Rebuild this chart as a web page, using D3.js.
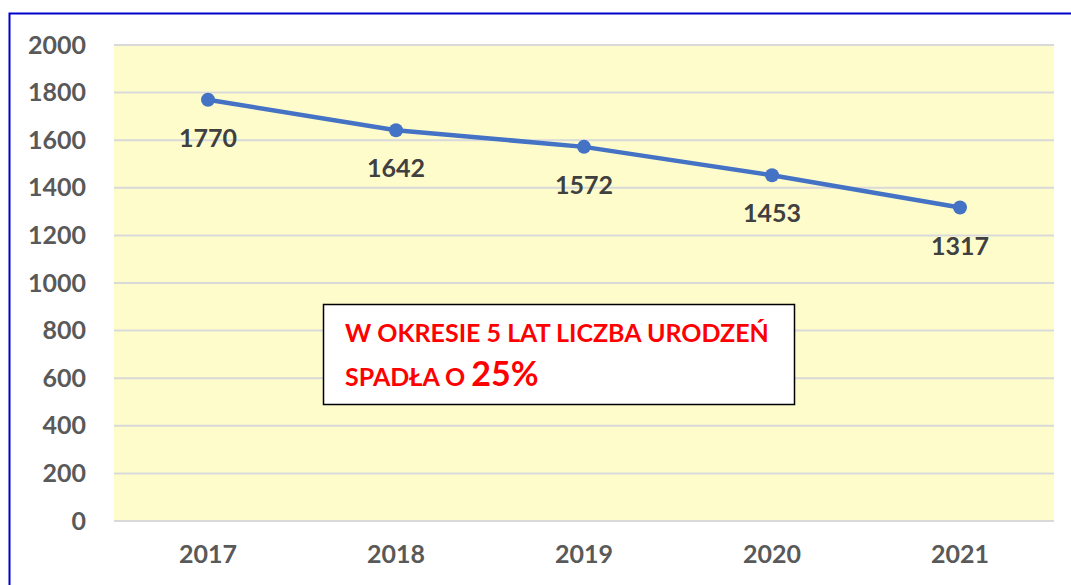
<!DOCTYPE html>
<html>
<head>
<meta charset="utf-8">
<script src="https://cdn.jsdelivr.net/npm/d3@7"></script>
<style>
  body { margin: 0; background: #fff; }
  text { font-family: Lato, "Open Sans", sans-serif; font-weight: bold; }
</style>
</head>
<body>
<main></main>
<script>
// births per year, line chart

const years = ["2017", "2018", "2019", "2020", "2021"];
const births = [1770, 1642, 1572, 1453, 1317];
const yTicks = [0, 200, 400, 600, 800, 1000, 1200, 1400, 1600, 1800, 2000];
const noteLine1 = "W OKRESIE 5 LAT LICZBA URODZEŃ";
const noteLine2 = "SPADŁA O ";
const notePct = "25%";

let width = 1071,
    height = 585;

let gray = "#595959",
    blue = "#4472c4";

let plot = { left: 114, right: 1054, top: 45, bottom: 521 };

let svg = d3.select("main").append("svg")
  .attr("width", width)
  .attr("height", height);

// outer frame (cut off on right and bottom)
svg.append("rect")
  .attr("x", 9.5).attr("y", 13.5)
  .attr("width", 1100).attr("height", 600)
  .attr("fill", "none")
  .attr("stroke", "#0000cc")
  .attr("stroke-width", 2);

let x = d3.scaleBand().domain(years).range([plot.left, plot.right]);
let y = d3.scaleLinear().domain([0, 2000]).range([plot.bottom, plot.top]);

svg.append("rect")
  .attr("x", plot.left).attr("y", plot.top)
  .attr("width", plot.right - plot.left)
  .attr("height", plot.bottom - plot.top)
  .attr("fill", "#fffccc");

// grid
svg.append("g").selectAll("line").data(yTicks).enter().append("line")
  .attr("x1", plot.left).attr("x2", plot.right)
  .attr("y1", d => y(d)).attr("y2", d => y(d))
  .attr("stroke", "#d9d9d9").attr("stroke-width", 2);

// y axis labels
let yAxis = svg.append("g")
  .attr("transform", `translate(${plot.left - 28},0)`)
  .call(d3.axisLeft(y).tickValues(yTicks).tickFormat(d3.format("d")).tickSize(0).tickPadding(0));
yAxis.select(".domain").remove();
yAxis.selectAll("text")
  .attr("fill", gray)
  .attr("font-size", 25)
  .attr("font-family", "Lato, sans-serif")
  .attr("font-weight", "bold");

// x axis labels
let xAxis = svg.append("g")
  .attr("transform", `translate(0,${plot.bottom})`)
  .call(d3.axisBottom(x).tickSize(0).tickPadding(24));
xAxis.select(".domain").remove();
xAxis.selectAll("text")
  .attr("fill", gray)
  .attr("font-size", 25)
  .attr("font-family", "Lato, sans-serif")
  .attr("font-weight", "bold");

let cx = d => x(d) + x.bandwidth() / 2;
let pts = years.map((yr, i) => ({ year: yr, value: births[i] }));

let line = d3.line().x(d => cx(d.year)).y(d => y(d.value));

svg.append("path")
  .datum(pts)
  .attr("d", line)
  .attr("fill", "none")
  .attr("stroke", blue)
  .attr("stroke-width", 4.5);

svg.append("g").selectAll("circle").data(pts).enter().append("circle")
  .attr("cx", d => cx(d.year))
  .attr("cy", d => y(d.value))
  .attr("r", 7)
  .attr("fill", blue);

svg.append("g").selectAll("text").data(pts).enter().append("text")
  .attr("x", d => cx(d.year))
  .attr("y", d => y(d.value) + 47)
  .attr("text-anchor", "middle")
  .attr("fill", "#404040")
  .attr("font-size", 25)
  .text(d => d.value);

// note box
let note = svg.append("g");
note.append("rect")
  .attr("x", 323.5).attr("y", 304.5)
  .attr("width", 471).attr("height", 100)
  .attr("fill", "#fff")
  .attr("stroke", "#000")
  .attr("stroke-width", 1.5);

note.append("text")
  .attr("x", 345).attr("y", 342)
  .attr("fill", "#ff0000")
  .attr("font-size", 25)
  .text(noteLine1);

let t2 = note.append("text")
  .attr("x", 345).attr("y", 386)
  .attr("fill", "#ff0000")
  .attr("font-size", 25);
t2.append("tspan").text(noteLine2);
t2.append("tspan").attr("font-size", 34).text(notePct);
</script>
</body>
</html>
